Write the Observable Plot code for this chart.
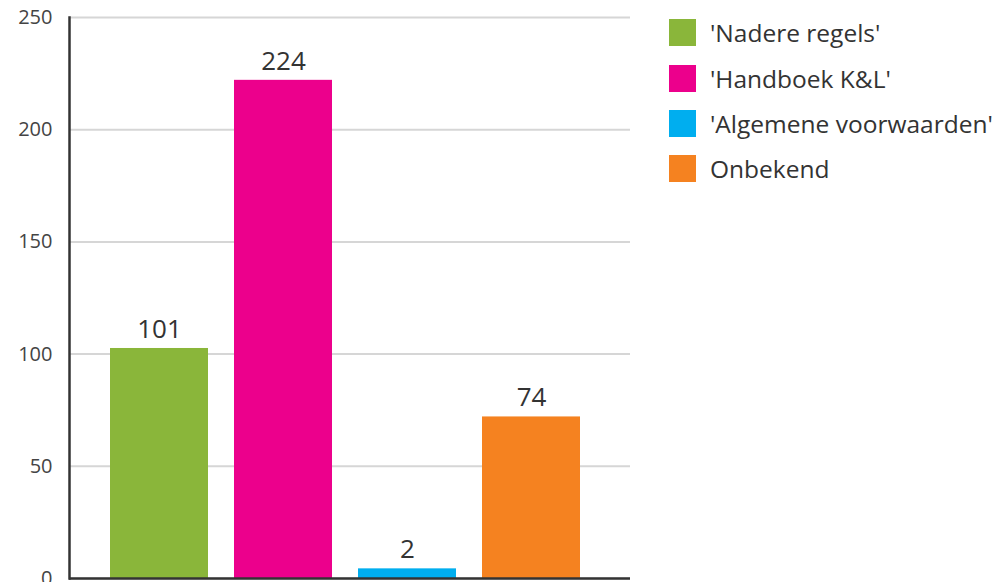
<!DOCTYPE html>
<html>
<head>
<meta charset="utf-8">
<script src="https://cdn.jsdelivr.net/npm/d3@7"></script>
<script src="https://cdn.jsdelivr.net/npm/@observablehq/plot@0.6"></script>
<style>
  html, body { margin: 0; padding: 0; background: #fff; }
  #wrap { position: relative; width: 999px; height: 582px; font-family: "Open Sans", "Noto Sans", sans-serif; }
  #chart { position: absolute; left: 0; top: 0; }
  #legend { position: absolute; left: 669px; top: 10px; }
  .item { display: flex; align-items: center; height: 45.4px; }
  .sw { width: 27px; height: 27px; margin-right: 14px; flex: none; }
  .lab { font-size: 24.5px; color: #333; white-space: nowrap; }
</style>
</head>
<body>
<div id="wrap">
  <div id="chart"></div>
  <div id="legend"></div>
</div>
<script>
const categories = ["'Nadere regels'", "'Handboek K&L'", "'Algemene voorwaarden'", "Onbekend"];
// printed labels above the bars
const labels = [101, 224, 2, 74];
// bar heights as drawn in the picture (slightly differ from the printed labels)
const barHeights = [102.5, 222, 4.3, 72];
const colors = ["#8ab63a", "#ec008c", "#00aeef", "#f58220"];
const yTicks = [0, 50, 100, 150, 200, 250];

const data = categories.map((c, i) => ({ category: c, value: barHeights[i], label: labels[i] }));

const chart = Plot.plot({
  width: 640,
  height: 582,
  marginLeft: 69,
  marginRight: 10,
  marginTop: 17,
  marginBottom: 4,
  style: { fontFamily: "'Open Sans', 'Noto Sans', sans-serif", background: "#fff" },
  x: { domain: categories, range: [110, 581], paddingInner: 0.207, paddingOuter: 0, axis: null },
  y: { domain: [0, 250], ticks: yTicks },
  color: { domain: categories, range: colors },
  marks: [
    Plot.ruleY(yTicks, { stroke: "#d6d6d6", strokeWidth: 2 }),
    Plot.barY(data, { x: "category", y: "value", fill: "category" }),
    Plot.text(data, { x: "category", y: "value", text: d => String(d.label), dy: -19, fontSize: 26, fill: "#333" }),
    Plot.axisY(yTicks, { tickSize: 0, tickPadding: 17, fontSize: 20, fill: "#444", label: null }),
    Plot.frame({ anchor: "left", stroke: "#333", strokeWidth: 2.5 }),
    Plot.ruleY([0], { stroke: "#333", strokeWidth: 2.5 })
  ]
});
document.getElementById("chart").appendChild(chart);

const legend = document.getElementById("legend");
categories.forEach((c, i) => {
  const item = document.createElement("div");
  item.className = "item";
  const sw = document.createElement("div");
  sw.className = "sw";
  sw.style.background = colors[i];
  const lab = document.createElement("div");
  lab.className = "lab";
  lab.textContent = c;
  item.appendChild(sw);
  item.appendChild(lab);
  legend.appendChild(item);
});
</script>
</body>
</html>
